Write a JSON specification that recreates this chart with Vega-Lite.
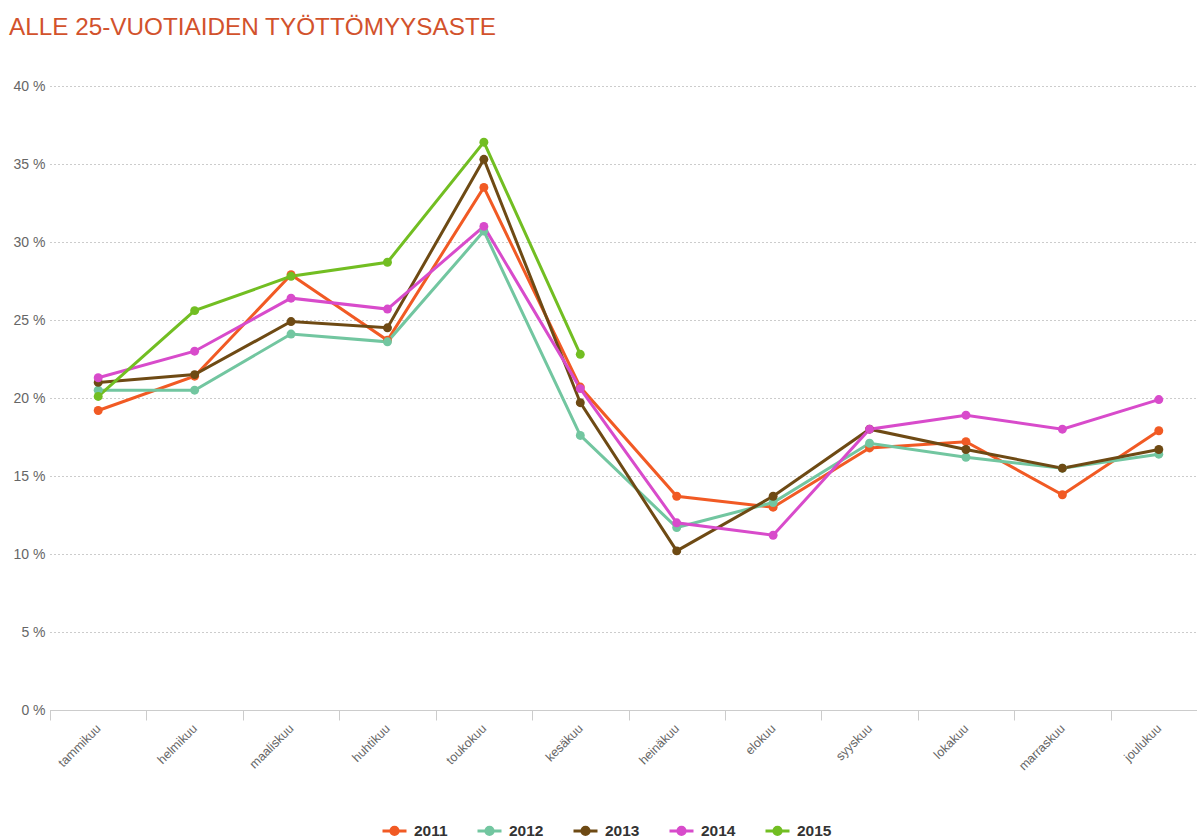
{
  "$schema": "https://vega.github.io/schema/vega-lite/v6.json",
  "width": 1147,
  "height": 624,
  "autosize": {"type": "none"},
  "padding": {"left": 50, "top": 86, "right": 0, "bottom": 128},
  "background": "white",
  "config": {"font": "Liberation Sans", "view": {"stroke": null}},
  "title": {
    "text": "ALLE 25-VUOTIAIDEN TYÖTTÖMYYSASTE",
    "anchor": "start",
    "frame": "group",
    "dx": -41,
    "offset": 39,
    "fontSize": 24.3,
    "fontWeight": "normal",
    "color": "#D2522C",
    "font": "Liberation Sans"
  },
  "data": {
    "values": [
      {"kuukausi": "tammikuu", "vuosi": "2011", "arvo": 19.2},
      {"kuukausi": "helmikuu", "vuosi": "2011", "arvo": 21.4},
      {"kuukausi": "maaliskuu", "vuosi": "2011", "arvo": 27.9},
      {"kuukausi": "huhtikuu", "vuosi": "2011", "arvo": 23.7},
      {"kuukausi": "toukokuu", "vuosi": "2011", "arvo": 33.5},
      {"kuukausi": "kesäkuu", "vuosi": "2011", "arvo": 20.7},
      {"kuukausi": "heinäkuu", "vuosi": "2011", "arvo": 13.7},
      {"kuukausi": "elokuu", "vuosi": "2011", "arvo": 13.0},
      {"kuukausi": "syyskuu", "vuosi": "2011", "arvo": 16.8},
      {"kuukausi": "lokakuu", "vuosi": "2011", "arvo": 17.2},
      {"kuukausi": "marraskuu", "vuosi": "2011", "arvo": 13.8},
      {"kuukausi": "joulukuu", "vuosi": "2011", "arvo": 17.9},

      {"kuukausi": "tammikuu", "vuosi": "2012", "arvo": 20.5},
      {"kuukausi": "helmikuu", "vuosi": "2012", "arvo": 20.5},
      {"kuukausi": "maaliskuu", "vuosi": "2012", "arvo": 24.1},
      {"kuukausi": "huhtikuu", "vuosi": "2012", "arvo": 23.6},
      {"kuukausi": "toukokuu", "vuosi": "2012", "arvo": 30.7},
      {"kuukausi": "kesäkuu", "vuosi": "2012", "arvo": 17.6},
      {"kuukausi": "heinäkuu", "vuosi": "2012", "arvo": 11.7},
      {"kuukausi": "elokuu", "vuosi": "2012", "arvo": 13.3},
      {"kuukausi": "syyskuu", "vuosi": "2012", "arvo": 17.1},
      {"kuukausi": "lokakuu", "vuosi": "2012", "arvo": 16.2},
      {"kuukausi": "marraskuu", "vuosi": "2012", "arvo": 15.5},
      {"kuukausi": "joulukuu", "vuosi": "2012", "arvo": 16.4},

      {"kuukausi": "tammikuu", "vuosi": "2013", "arvo": 21.0},
      {"kuukausi": "helmikuu", "vuosi": "2013", "arvo": 21.5},
      {"kuukausi": "maaliskuu", "vuosi": "2013", "arvo": 24.9},
      {"kuukausi": "huhtikuu", "vuosi": "2013", "arvo": 24.5},
      {"kuukausi": "toukokuu", "vuosi": "2013", "arvo": 35.3},
      {"kuukausi": "kesäkuu", "vuosi": "2013", "arvo": 19.7},
      {"kuukausi": "heinäkuu", "vuosi": "2013", "arvo": 10.2},
      {"kuukausi": "elokuu", "vuosi": "2013", "arvo": 13.7},
      {"kuukausi": "syyskuu", "vuosi": "2013", "arvo": 18.0},
      {"kuukausi": "lokakuu", "vuosi": "2013", "arvo": 16.7},
      {"kuukausi": "marraskuu", "vuosi": "2013", "arvo": 15.5},
      {"kuukausi": "joulukuu", "vuosi": "2013", "arvo": 16.7},

      {"kuukausi": "tammikuu", "vuosi": "2014", "arvo": 21.3},
      {"kuukausi": "helmikuu", "vuosi": "2014", "arvo": 23.0},
      {"kuukausi": "maaliskuu", "vuosi": "2014", "arvo": 26.4},
      {"kuukausi": "huhtikuu", "vuosi": "2014", "arvo": 25.7},
      {"kuukausi": "toukokuu", "vuosi": "2014", "arvo": 31.0},
      {"kuukausi": "kesäkuu", "vuosi": "2014", "arvo": 20.6},
      {"kuukausi": "heinäkuu", "vuosi": "2014", "arvo": 12.0},
      {"kuukausi": "elokuu", "vuosi": "2014", "arvo": 11.2},
      {"kuukausi": "syyskuu", "vuosi": "2014", "arvo": 18.0},
      {"kuukausi": "lokakuu", "vuosi": "2014", "arvo": 18.9},
      {"kuukausi": "marraskuu", "vuosi": "2014", "arvo": 18.0},
      {"kuukausi": "joulukuu", "vuosi": "2014", "arvo": 19.9},

      {"kuukausi": "tammikuu", "vuosi": "2015", "arvo": 20.1},
      {"kuukausi": "helmikuu", "vuosi": "2015", "arvo": 25.6},
      {"kuukausi": "maaliskuu", "vuosi": "2015", "arvo": 27.8},
      {"kuukausi": "huhtikuu", "vuosi": "2015", "arvo": 28.7},
      {"kuukausi": "toukokuu", "vuosi": "2015", "arvo": 36.4},
      {"kuukausi": "kesäkuu", "vuosi": "2015", "arvo": 22.8}
    ]
  },
  "mark": {"type": "line", "strokeWidth": 3, "point": {"filled": true, "size": 80, "opacity": 1}},
  "encoding": {
    "x": {
      "field": "kuukausi",
      "type": "nominal",
      "sort": ["tammikuu", "helmikuu", "maaliskuu", "huhtikuu", "toukokuu", "kesäkuu", "heinäkuu", "elokuu", "syyskuu", "lokakuu", "marraskuu", "joulukuu"],
      "scale": {"type": "band", "range": [0, 1157], "paddingInner": 0, "paddingOuter": 0},
      "axis": {
        "title": null,
        "labelAngle": -45,
        "labelAlign": "right",
        "labelBaseline": "middle",
        "tickBand": "extent",
        "tickSize": 10,
        "tickColor": "#cccccc",
        "domainColor": "#cccccc",
        "labelColor": "#666666",
        "labelFontSize": 12.5,
        "labelPadding": 6,
        "grid": false
      }
    },
    "y": {
      "field": "arvo",
      "type": "quantitative",
      "scale": {"domain": [0, 40]},
      "axis": {
        "title": null,
        "values": [0, 5, 10, 15, 20, 25, 30, 35, 40],
        "labelExpr": "datum.value + ' %'",
        "domain": false,
        "ticks": false,
        "labelPadding": 5,
        "labelColor": "#666666",
        "labelFontSize": 14,
        "gridDash": [1, 3],
        "gridColor": "#999999",
        "gridWidth": 1
      }
    },
    "color": {
      "field": "vuosi",
      "type": "nominal",
      "scale": {
        "domain": ["2011", "2012", "2013", "2014", "2015"],
        "range": ["#F15A24", "#72C6A0", "#6E4A14", "#D84BCB", "#72BE22"]
      },
      "legend": {
        "orient": "none",
        "legendX": 331,
        "legendY": 731,
        "direction": "horizontal",
        "title": null,
        "symbolType": "M-1,0L1,0M-0.3,0A0.3,0.3 0 1,0 0.3,0A0.3,0.3 0 1,0 -0.3,0",
        "symbolSize": 576,
        "symbolStrokeWidth": 3,
        "labelFontWeight": "bold",
        "labelFontSize": 15.5,
        "labelColor": "#333333",
        "columnPadding": 23,
        "labelOffset": 6,
        "encode": {
          "symbols": {
            "update": {
              "fill": {"scale": "color", "field": "value"},
              "stroke": {"scale": "color", "field": "value"},
              "fillOpacity": {"value": 1},
              "opacity": {"value": 1}
            }
          }
        }
      }
    }
  }
}
